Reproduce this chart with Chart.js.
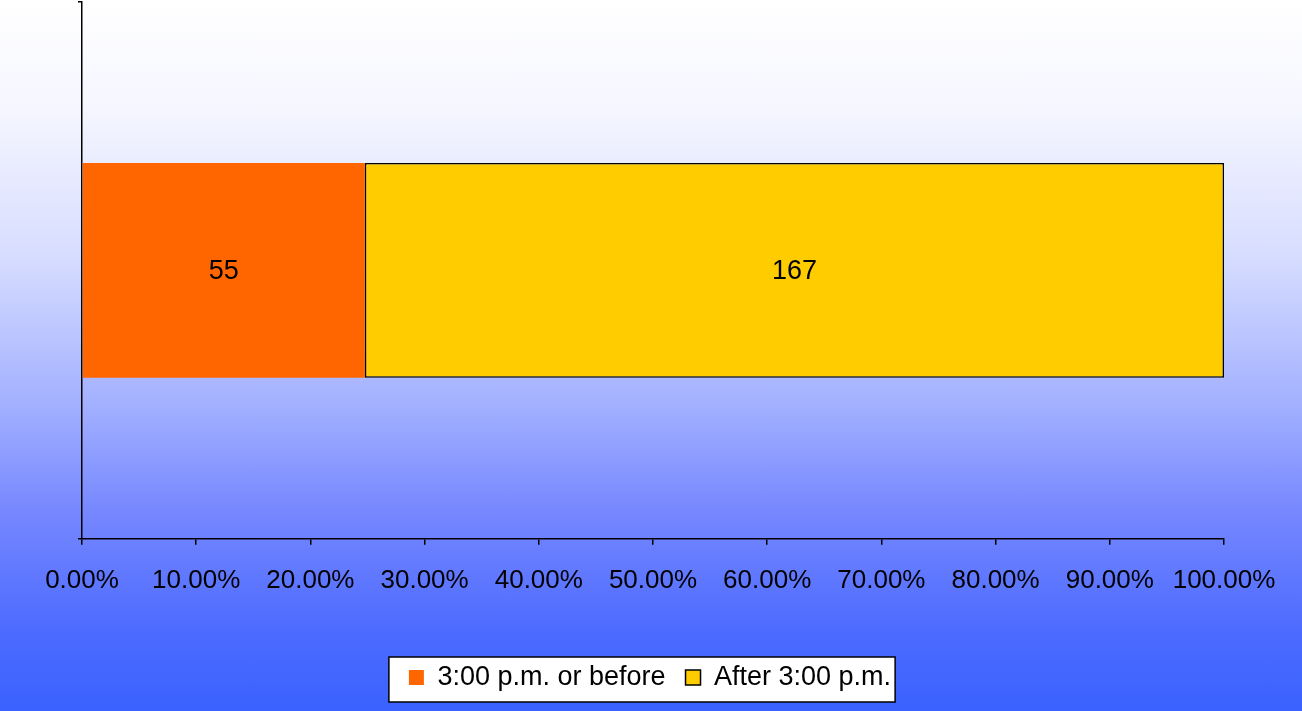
<!DOCTYPE html>
<html>
<head>
<meta charset="utf-8">
<script src="https://cdn.jsdelivr.net/npm/chart.js@4/dist/chart.umd.min.js"></script>
<style>
  html, body { margin: 0; padding: 0; }
  body {
    width: 1302px; height: 711px; overflow: hidden;
    background: linear-gradient(to bottom, #ffffff 0%, #f5f6ff 15.5%, #d6dcff 36.6%, #a0aeff 57.7%, #7788ff 71.7%, #4d6bff 88.6%, #3a62ff 100%);
  }
  #wrap { position: relative; width: 1302px; height: 711px; }
</style>
</head>
<body>
<div id="wrap"><canvas id="chart"></canvas></div>
<script>
const categories = [''];
const seriesNames = ['3:00 p.m. or before', 'After 3:00 p.m.'];
const before3pm = [55];
const after3pm = [167];
const xTicks = [0, 10, 20, 30, 40, 50, 60, 70, 80, 90, 100];

const colors = {
  before: '#FF6600',
  after: '#FFCC00',
  line: '#000000',
  text: '#000000'
};

const FONT = 'Arial, "Liberation Sans", sans-serif';

// 100% stacked: convert counts to share of the row total
const totals = before3pm.map((v, i) => v + after3pm[i]);
const pct = arr => arr.map((v, i) => v / totals[i] * 100);

// count labels in the middle of each segment
const countLabels = {
  id: 'countLabels',
  afterDatasetsDraw(chart) {
    const ctx = chart.ctx;
    ctx.save();
    ctx.font = '27px ' + FONT;
    ctx.fillStyle = colors.text;
    ctx.textAlign = 'center';
    ctx.textBaseline = 'middle';
    chart.data.datasets.forEach((ds, di) => {
      chart.getDatasetMeta(di).data.forEach((bar, i) => {
        const x = (bar.x + bar.base) / 2;
        ctx.fillText(String(ds.counts[i]), x, bar.y + 1);
      });
    });
    ctx.restore();
  }
};

// nudge the legend right so it sits where the original one does
const legendShift = {
  id: 'legendShift',
  afterLayout(chart) {
    const lg = chart.legend;
    if (!lg) return;
    lg.left += 38;
    lg.right += 38;
  }
};

// frame around the legend
const legendFrame = {
  id: 'legendFrame',
  afterDraw(chart) {
    const lg = chart.legend;
    if (!lg || !lg.legendHitBoxes.length) return;
    const boxes = lg.legendHitBoxes;
    const last = boxes[boxes.length - 1];
    const left = boxes[0].left - 20;
    const right = last.left + last.width + 4;
    const top = boxes[0].top - 7;
    const bottom = boxes[0].top + boxes[0].height + 11;
    const ctx = chart.ctx;
    ctx.save();
    ctx.fillStyle = '#ffffff';
    ctx.strokeStyle = colors.line;
    ctx.lineWidth = 1.5;
    ctx.globalCompositeOperation = 'destination-over';
    ctx.fillRect(left, top, right - left, bottom - top);
    ctx.globalCompositeOperation = 'source-over';
    ctx.strokeRect(left, top, right - left, bottom - top);
    ctx.restore();
  }
};

new Chart(document.getElementById('chart'), {
  type: 'bar',
  data: {
    labels: categories,
    datasets: [
      {
        label: seriesNames[0],
        data: pct(before3pm),
        counts: before3pm,
        backgroundColor: colors.before,
        borderWidth: 0,
        barPercentage: 1,
        categoryPercentage: 0.4
      },
      {
        label: seriesNames[1],
        data: pct(after3pm),
        counts: after3pm,
        backgroundColor: colors.after,
        borderColor: colors.line,
        borderWidth: 1.5,
        borderSkipped: false,
        barPercentage: 1,
        categoryPercentage: 0.4
      }
    ]
  },
  options: {
    indexAxis: 'y',
    responsive: true,
    maintainAspectRatio: false,
    animation: false,
    layout: {
      padding: { top: 2, right: 78, bottom: 10, left: 0 }
    },
    scales: {
      x: {
        stacked: true,
        min: 0,
        max: 100,
        afterBuildTicks: (scale) => { scale.ticks = xTicks.map(v => ({ value: v })); },
        border: { display: true, color: colors.line, width: 1.5 },
        grid: { drawOnChartArea: false, drawTicks: true, tickLength: 6, color: colors.line, lineWidth: 1.5 },
        ticks: {
          color: colors.text,
          font: { family: FONT, size: 26 },
          padding: 20,
          maxRotation: 0,
          autoSkip: false,
          callback: (value) => value.toFixed(2) + '%'
        },
        afterFit: (scale) => { scale.height += 28; }
      },
      y: {
        stacked: true,
        border: { display: true, color: colors.line, width: 1.5 },
        grid: { drawOnChartArea: false, drawTicks: true, tickLength: 4, color: colors.line, lineWidth: 1.5 },
        ticks: { display: false },
        afterFit: (scale) => { scale.width = 82; }
      }
    },
    plugins: {
      legend: {
        position: 'bottom',
        labels: {
          color: colors.text,
          font: { family: FONT, size: 27 },
          boxWidth: 15,
          boxHeight: 15,
          padding: 20,
          generateLabels: (chart) => chart.data.datasets.map((ds, i) => ({
            text: ds.label,
            fillStyle: ds.backgroundColor,
            strokeStyle: i === 1 ? colors.line : ds.backgroundColor,
            lineWidth: i === 1 ? 1.5 : 0,
            datasetIndex: i,
            fontColor: colors.text
          }))
        }
      },
      tooltip: { enabled: false }
    }
  },
  plugins: [countLabels, legendShift, legendFrame]
});
</script>
</body>
</html>
